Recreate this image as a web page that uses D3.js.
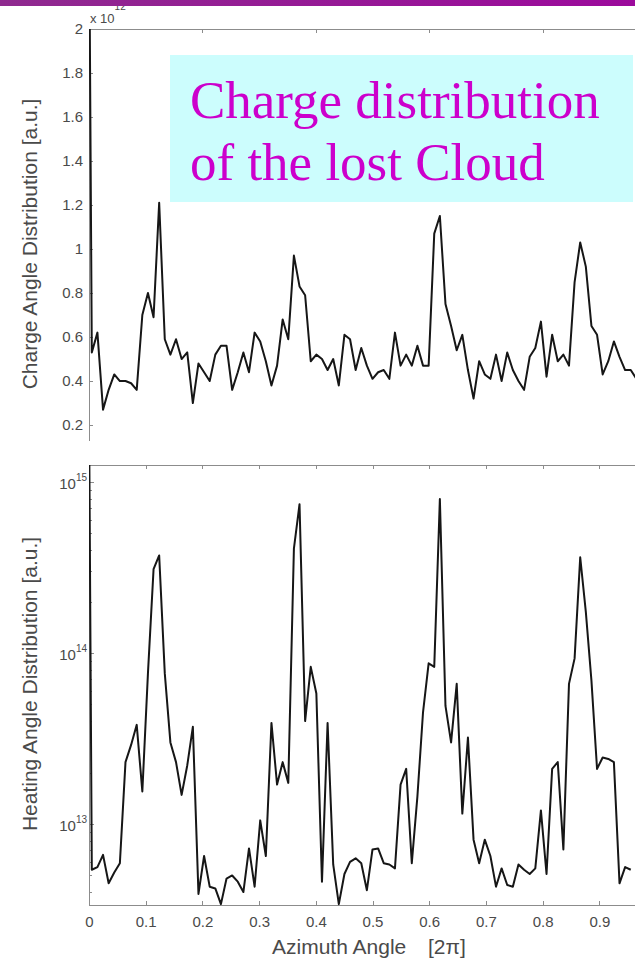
<!DOCTYPE html>
<html lang="en">
<head>
<meta charset="utf-8">
<title>Charge and heating angle distribution</title>
<script src="https://d3js.org/d3.v7.min.js"></script>
<style>
  body { margin: 0; background: #fff; }
  svg text { font-family: "Liberation Sans", Arial, sans-serif; }
  .axis path, .axis line { fill: none; stroke: #8c8c8c; shape-rendering: crispEdges; }
  .axis text { font-size: 15px; fill: #4a4a4a; }
  .trace { fill: none; stroke: #161616; stroke-width: 2; stroke-linejoin: round; }
  .label { font-size: 21px; fill: #4a4a4a; }
</style>
</head>
<body>
<script>
// angle axis, in units of 2*pi; samples are bin centres of 101 bins
var binWidth = 1 / 101;
var xTicks = [0, 0.1, 0.2, 0.3, 0.4, 0.5, 0.6, 0.7, 0.8, 0.9];
var xTicksTop = [0, 0.2, 0.4, 0.6, 0.8, 1];

// upper panel, charge angle distribution (x 1e12)
var chargeTicks = [0.2, 0.4, 0.6, 0.8, 1, 1.2, 1.4, 1.6, 1.8, 2];
var chargeAtZero = 2.6;   // off scale at angle 0
var charge = [0.53, 0.62, 0.27, 0.36, 0.43, 0.40, 0.40, 0.39, 0.36, 0.70,
              0.80, 0.69, 1.21, 0.59, 0.52, 0.59, 0.50, 0.53, 0.30, 0.48,
              0.44, 0.40, 0.52, 0.56, 0.56, 0.36, 0.44, 0.53, 0.44, 0.62,
              0.58, 0.49, 0.38, 0.47, 0.68, 0.59, 0.97, 0.83, 0.79, 0.49,
              0.52, 0.50, 0.45, 0.50, 0.38, 0.61, 0.59, 0.45, 0.55, 0.47,
              0.41, 0.44, 0.45, 0.41, 0.62, 0.47, 0.52, 0.47, 0.56, 0.47,
              0.47, 1.07, 1.15, 0.75, 0.65, 0.54, 0.61, 0.45, 0.32, 0.49,
              0.43, 0.41, 0.52, 0.40, 0.53, 0.45, 0.40, 0.36, 0.51, 0.55,
              0.67, 0.42, 0.61, 0.49, 0.52, 0.47, 0.85, 1.03, 0.92, 0.65,
              0.61, 0.43, 0.49, 0.58, 0.51, 0.45, 0.45, 0.41, 0.46];

// lower panel, heating angle distribution, in units of 1e12
var heatUnit = 1e12;
var heatDecades = [13, 14, 15];
var heatAtZero = 3000;    // off scale at angle 0
var heating = [5.4, 5.6, 6.6, 4.5, 5.2, 5.9, 23, 29, 38, 15.5,
               76, 309, 372, 76, 30, 23, 14.8, 22, 37, 3.9,
               6.5, 4.3, 4.2, 3.4, 4.8, 5.0, 4.6, 4.0, 7.2, 4.3,
               10.5, 6.5, 39, 17, 23, 17.4, 407, 741, 40, 83,
               58, 4.6, 39, 5.8, 3.4, 5.1, 6.0, 6.3, 5.9, 4.1,
               7.1, 7.2, 5.9, 5.8, 5.5, 17, 21, 5.9, 14.5, 45,
               87, 83, 794, 49, 30, 66, 11.5, 32, 8.1, 5.9,
               8.1, 6.5, 4.3, 5.5, 4.4, 4.3, 5.8, 5.4, 5.1, 5.5,
               12, 5.1, 21, 23, 7.1, 66, 93, 363, 174, 69,
               21, 24.5, 24, 23, 4.5, 5.6, 5.4];

var w = 635, h = 958;
var left = 89;

var svg = d3.select("body").append("svg")
    .attr("width", w)
    .attr("height", h);

var x = d3.scaleLinear().domain([0, 1]).range([left, 656]);
var yCharge = d3.scaleLinear().domain([0.132, 2]).range([440, 29]);
var yHeat = d3.scaleLog().domain([3.36 * heatUnit, 1257 * heatUnit]).range([905, 465]);

function toPoints(atZero, values, unit) {
    var pts = [{a: 0, v: atZero * unit}];
    values.forEach(function(v, i) {
        pts.push({a: (i + 0.5) * binWidth, v: v * unit});
    });
    return pts;
}

var defs = svg.append("defs");
defs.append("clipPath").attr("id", "clipTop")
  .append("rect").attr("x", left).attr("y", 29).attr("width", w - left).attr("height", 411);
defs.append("clipPath").attr("id", "clipBottom")
  .append("rect").attr("x", left).attr("y", 465).attr("width", w - left).attr("height", 443);
var grad = defs.append("linearGradient").attr("id", "bar");
grad.append("stop").attr("offset", "0%").attr("stop-color", "#8f2a8f");
grad.append("stop").attr("offset", "100%").attr("stop-color", "#9c0a9c");

// ---- upper panel ----
svg.append("g").attr("class", "axis")
    .attr("transform", "translate(" + left + ",0)")
    .call(d3.axisLeft(yCharge).tickValues(chargeTicks).tickSize(-4).tickSizeOuter(0)
        .tickPadding(6).tickFormat(d3.format("~g")));

svg.append("g").attr("class", "axis")
    .attr("transform", "translate(0,29)")
    .call(d3.axisTop(x).tickValues(xTicksTop).tickSize(-4).tickSizeOuter(0).tickFormat(""));

svg.append("path")
    .datum(toPoints(chargeAtZero, charge, 1))
    .attr("class", "trace")
    .attr("clip-path", "url(#clipTop)")
    .attr("d", d3.line().x(function(d) { return x(d.a); }).y(function(d) { return yCharge(d.v); }));

var mult = svg.append("text").attr("x", 90).attr("y", 23).style("font-size", "13px").style("fill", "#4a4a4a");
mult.append("tspan").text("x 10");
mult.append("tspan").attr("dy", -13).style("font-size", "10px").text("12");

svg.append("text").attr("class", "label")
    .attr("transform", "translate(37,244) rotate(-90)")
    .attr("text-anchor", "middle")
    .text("Charge Angle Distribution [a.u.]");

// ---- lower panel ----
svg.append("g").attr("class", "axis")
    .attr("transform", "translate(" + left + ",0)")
    .call(d3.axisLeft(yHeat)
        .tickValues(heatDecades.map(function(e) { return Math.pow(10, e); }))
        .tickSize(-5).tickSizeOuter(0).tickFormat(""));

// minor log ticks
var minor = [];
[12, 13, 14, 15].forEach(function(e) {
    for (var k = 2; k <= 9; k++) {
        var v = k * Math.pow(10, e);
        if (v > yHeat.domain()[0] && v < yHeat.domain()[1]) minor.push(v);
    }
});
svg.append("g").attr("class", "axis").selectAll("line")
    .data(minor).enter().append("line")
    .attr("x1", left).attr("x2", left + 3)
    .attr("y1", function(d) { return Math.round(yHeat(d)) + 0.5; })
    .attr("y2", function(d) { return Math.round(yHeat(d)) + 0.5; });

var decadeLabels = svg.append("g").selectAll("text")
    .data(heatDecades).enter().append("text")
    .attr("x", 87)
    .attr("y", function(e) { return yHeat(Math.pow(10, e)) + 7; })
    .attr("text-anchor", "end")
    .style("font-size", "15px").style("fill", "#4a4a4a");
decadeLabels.append("tspan").text("10");
decadeLabels.append("tspan").attr("dy", -8).style("font-size", "10px")
    .text(function(e) { return e; });

svg.append("g").attr("class", "axis")
    .attr("transform", "translate(0,905)")
    .call(d3.axisBottom(x).tickValues(xTicks).tickSize(-4).tickSizeOuter(0)
        .tickPadding(11).tickFormat(d3.format("~g")));

svg.append("g").attr("class", "axis")
    .attr("transform", "translate(0,465)")
    .call(d3.axisTop(x).tickValues(xTicks).tickSize(-4).tickSizeOuter(0).tickFormat(""));

svg.append("path")
    .datum(toPoints(heatAtZero, heating, heatUnit))
    .attr("class", "trace")
    .attr("clip-path", "url(#clipBottom)")
    .attr("d", d3.line().x(function(d) { return x(d.a); }).y(function(d) { return yHeat(d.v); }));

svg.append("text").attr("class", "label")
    .attr("transform", "translate(37,684) rotate(-90)")
    .attr("text-anchor", "middle")
    .text("Heating Angle Distribution [a.u.]");

svg.append("text").attr("class", "label").attr("x", 272).attr("y", 954).text("Azimuth Angle");
svg.append("text").attr("class", "label").attr("x", 428).attr("y", 954).text("[2\u03c0]");

// ---- caption box ----
svg.append("rect")
    .attr("x", 170).attr("y", 55).attr("width", 463).attr("height", 147)
    .attr("fill", "#ccfdfd");
var cap = svg.append("text")
    .style("font-family", "'Liberation Serif', 'Times New Roman', serif")
    .style("font-size", "53px")
    .style("fill", "#cc00cc");
cap.append("tspan").attr("x", 190).attr("y", 118).text("Charge distribution");
cap.append("tspan").attr("x", 190).attr("y", 180).text("of the lost Cloud");

// slide title bar
svg.append("rect").attr("x", 0).attr("y", 0).attr("width", w).attr("height", 6).attr("fill", "url(#bar)");
</script>
</body>
</html>
